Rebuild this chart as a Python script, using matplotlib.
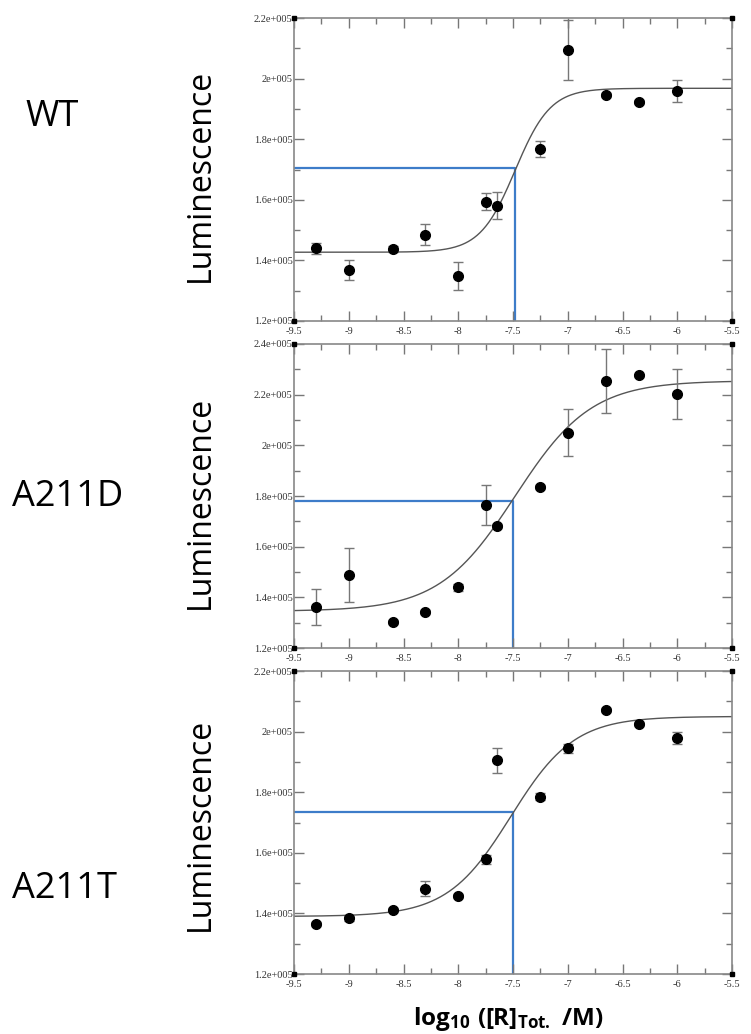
import numpy as np
import matplotlib
matplotlib.use("Agg")
import matplotlib.pyplot as plt
from matplotlib.ticker import MultipleLocator, FuncFormatter

# log10 of total receptor concentration
conc = [-9.3, -9.0, -8.6, -8.3, -8.0, -7.75, -7.65, -7.25, -7.0, -6.65, -6.35, -6.0]

names = ["WT", "A211D", "A211T"]

lum_wt = [1.440e5, 1.368e5, 1.438e5, 1.485e5, 1.349e5, 1.594e5, 1.581e5, 1.767e5, 2.094e5, 1.945e5, 1.922e5, 1.960e5]
err_wt = [1.9e3, 3.3e3, 1.0e3, 3.5e3, 4.6e3, 2.9e3, 4.4e3, 2.7e3, 1.0e4, 0.6e3, 0.6e3, 3.7e3]

lum_d = [1.361e5, 1.488e5, 1.301e5, 1.343e5, 1.440e5, 1.765e5, 1.682e5, 1.837e5, 2.050e5, 2.255e5, 2.277e5, 2.203e5]
err_d = [7.0e3, 1.05e4, 0.8e3, 0.8e3, 1.4e3, 8.0e3, 0.8e3, 0.8e3, 9.3e3, 1.26e4, 0.6e3, 9.9e3]

lum_t = [1.365e5, 1.384e5, 1.411e5, 1.482e5, 1.457e5, 1.578e5, 1.906e5, 1.785e5, 1.945e5, 2.071e5, 2.026e5, 1.978e5]
err_t = [0.8e3, 0.8e3, 0.8e3, 2.5e3, 0.6e3, 1.5e3, 4.1e3, 1.2e3, 1.5e3, 0.6e3, 0.6e3, 2.0e3]

# fitted dose-response parameters: bottom, top, logEC50, hill slope
fit_wt = (1.427e5, 1.968e5, -7.48, 2.7)
fit_d = (1.345e5, 2.255e5, -7.48, 1.25)
fit_t = (1.39e5, 2.05e5, -7.52, 1.5)

# blue guide lines (x, y)
mid_wt = (-7.48, 1.704e5)
mid_d = (-7.50, 1.781e5)
mid_t = (-7.50, 1.734e5)

ylims = [(1.2e5, 2.2e5), (1.2e5, 2.4e5), (1.2e5, 2.2e5)]


def sigmoid(x, b, t, c, h):
    return b + (t - b) / (1 + 10 ** ((c - x) * h))


def sci_fmt(v, pos):
    if v == 0:
        return "0"
    e = int(np.floor(np.log10(abs(v))))
    m = v / 10 ** e
    return "%se+%03d" % (("%.1f" % m).rstrip("0").rstrip("."), e)


fig = plt.figure(figsize=(7.51, 10.34), dpi=100)

panels = [(lum_wt, err_wt, fit_wt, mid_wt), (lum_d, err_d, fit_d, mid_d), (lum_t, err_t, fit_t, mid_t)]
tops = [18, 344, 671]
bots = [321, 648, 974]
label_x = [25, 12, 12]
label_y = [117, 497, 889]
lum_y = [175, 502, 824]
W, H = 751.0, 1034.0
ax_l, ax_r = 294, 732

for i, (lum, err, fit, mid) in enumerate(panels):
    ax = fig.add_axes([ax_l / W, 1 - bots[i] / H, (ax_r - ax_l) / W, (bots[i] - tops[i]) / H])
    xs = np.linspace(-9.5, -5.5, 300)
    ax.plot(xs, sigmoid(xs, *fit), color="#555555", lw=1.0, zorder=2)
    ax.plot([-9.5, mid[0], mid[0]], [mid[1], mid[1], ylims[i][0]], color="#3d7cc9", lw=1.6, zorder=1)
    ax.errorbar(conc, lum, yerr=err, fmt="o", color="black", ms=7, ecolor="#777777",
                elinewidth=1.0, capsize=3.5, capthick=1.0, zorder=3)
    ax.set_xlim(-9.5, -5.5)
    ax.set_ylim(*ylims[i])
    ax.xaxis.set_major_locator(MultipleLocator(0.5))
    ax.xaxis.set_minor_locator(MultipleLocator(0.25))
    ax.yaxis.set_major_locator(MultipleLocator(2e4))
    ax.yaxis.set_minor_locator(MultipleLocator(1e4))
    ax.yaxis.set_major_formatter(FuncFormatter(sci_fmt))
    ax.xaxis.set_major_formatter(FuncFormatter(lambda v, p: "%g" % v))
    ax.tick_params(which="both", direction="in", top=True, right=True, color="#777777")
    ax.tick_params(which="major", length=7, width=1)
    ax.tick_params(which="minor", length=4, width=1)
    ax.tick_params(axis="y", pad=1)
    ax.tick_params(axis="x", pad=4)
    for lab in ax.get_xticklabels() + ax.get_yticklabels():
        lab.set_fontfamily("Liberation Serif")
        lab.set_fontsize(7.5)
        lab.set_color("#333333")
    for s in ax.spines.values():
        s.set_color("#888888")
        s.set_linewidth(1.2)
    # little squares at the frame corners
    ax.plot([-9.5, -9.5, -5.5, -5.5], [ylims[i][0], ylims[i][1], ylims[i][0], ylims[i][1]],
            "s", color="black", ms=3.5, clip_on=False, zorder=5)

    fig.text(label_x[i] / W, 1 - label_y[i] / H, names[i], fontsize=26, family="Open Sans",
             ha="left", va="center")
    fig.text(200 / W, 1 - lum_y[i] / H, "Luminescence", fontsize=23, family="Open Sans",
             rotation=90, ha="center", va="center")

plt.rcParams["mathtext.fontset"] = "custom"
plt.rcParams["mathtext.bf"] = "Open Sans:bold"
plt.rcParams["mathtext.rm"] = "Open Sans:bold"
fig.text(508 / W, 1 - 1019 / H, r"$\mathbf{log_{10}\ ([R]_{Tot.}\ /M)}$", fontsize=17.5,
         ha="center", va="center")

fig.savefig("out.png", dpi=100)
